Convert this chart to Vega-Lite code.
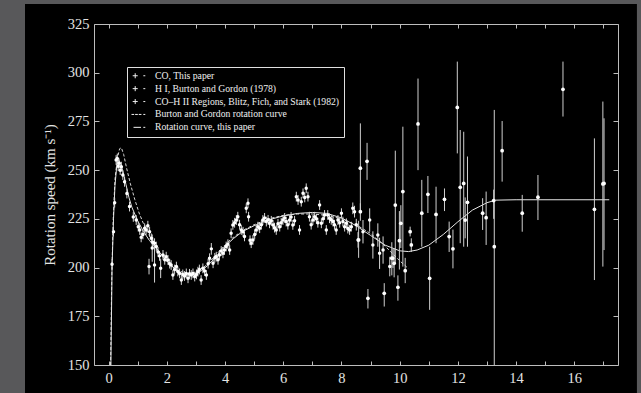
{
  "$schema": "https://vega.github.io/schema/vega-lite/v6.json",
  "autosize": "none",
  "width": 524,
  "height": 341,
  "padding": {"left": 94, "top": 24, "right": 23, "bottom": 28},
  "background": "#58585a",
  "config": {
    "view": {"stroke": null},
    "axis": {
      "labelFont": "Liberation Serif", "labelFontSize": 14.5, "labelColor": "#e4e4e4",
      "titleFont": "Liberation Serif", "titleFontSize": 15, "titleFontWeight": "normal", "titleColor": "#e4e4e4",
      "domainColor": "#bdbdbd", "tickColor": "#bdbdbd", "grid": false, "domainWidth": 1, "tickWidth": 1
    },
    "legend": {
      "labelFont": "Liberation Serif", "labelFontSize": 9.7, "labelColor": "#f0f0f0", "labelLimit": 400
    }
  },
  "datasets": {
    "panel": [{"name": "panel"}],
    "co": [
      {"x":0.12,"v":201.7,"e":2.5},{"x":0.17,"v":218.4,"e":2.5},{"x":0.21,"v":233.3,"e":2.5},{"x":0.26,"v":255.2,"e":2.5},
      {"x":0.30,"v":256,"e":2.5},{"x":0.33,"v":252,"e":2.5},{"x":0.36,"v":253.5,"e":2.5},{"x":0.40,"v":250,"e":2.5},
      {"x":0.44,"v":251.8,"e":2.5},{"x":0.49,"v":247.5,"e":2.5},{"x":0.55,"v":244,"e":2.5},{"x":0.63,"v":238,"e":2.5},
      {"x":0.72,"v":231.3,"e":2.5},{"x":0.85,"v":226,"e":2.5},{"x":0.95,"v":224.4,"e":2.5},{"x":1.02,"v":221,"e":2.5},
      {"x":1.07,"v":219.3,"e":2.5},{"x":1.12,"v":215.5,"e":2.5},{"x":1.18,"v":217,"e":2.5},{"x":1.24,"v":220.2,"e":2.5},
      {"x":1.29,"v":219.3,"e":2.5},{"x":1.35,"v":221.5,"e":2.5},{"x":1.41,"v":218.4,"e":2.5},{"x":1.47,"v":215,"e":2.5},
      {"x":1.52,"v":213,"e":2.5},{"x":1.58,"v":212.5,"e":2.5},{"x":1.64,"v":210.8,"e":2.5},{"x":1.70,"v":208,"e":2.5},
      {"x":1.75,"v":206,"e":2.5},{"x":1.87,"v":206.5,"e":2.5},{"x":1.93,"v":204,"e":2.5},{"x":1.98,"v":205.6,"e":2.5},
      {"x":2.04,"v":203.9,"e":2.5},{"x":2.10,"v":202,"e":2.5},{"x":2.15,"v":201.3,"e":2.5},{"x":2.21,"v":196.2,"e":2.5},
      {"x":2.27,"v":199,"e":2.5},{"x":2.33,"v":200.5,"e":2.5},{"x":2.38,"v":198,"e":2.5},{"x":2.44,"v":197,"e":2.5},
      {"x":2.50,"v":193.6,"e":2.5},{"x":2.55,"v":196.5,"e":2.5},{"x":2.61,"v":195.7,"e":2.5},{"x":2.67,"v":197,"e":2.5},
      {"x":2.73,"v":194.5,"e":2.5},{"x":2.78,"v":196.8,"e":2.5},{"x":2.84,"v":196.2,"e":2.5},{"x":2.90,"v":197,"e":2.5},
      {"x":2.96,"v":195.4,"e":2.5},{"x":3.02,"v":196.5,"e":2.5},{"x":3.07,"v":197.9,"e":2.5},{"x":3.12,"v":199,"e":2.5},
      {"x":3.18,"v":193.6,"e":2.5},{"x":3.24,"v":199.6,"e":2.5},{"x":3.30,"v":198.2,"e":2.5},{"x":3.36,"v":196.2,"e":2.5},
      {"x":3.42,"v":202,"e":2.5},{"x":3.47,"v":204.8,"e":2.5},{"x":3.59,"v":202.2,"e":2.5},{"x":3.65,"v":205,"e":2.5},
      {"x":3.70,"v":205.6,"e":2.5},{"x":3.76,"v":204,"e":2.5},{"x":3.81,"v":206.5,"e":2.5},{"x":3.87,"v":208.5,"e":2.5},
      {"x":3.93,"v":207.3,"e":2.5},{"x":3.98,"v":209,"e":2.5},{"x":4.04,"v":210.8,"e":2.5},{"x":4.10,"v":212,"e":2.5},
      {"x":4.16,"v":209.0,"e":2.5},{"x":4.21,"v":217.6,"e":2.5},{"x":4.27,"v":221.9,"e":2.5},{"x":4.33,"v":223,"e":2.5},
      {"x":4.39,"v":224.4,"e":2.5},{"x":4.44,"v":226.1,"e":2.5},{"x":4.50,"v":222,"e":2.5},{"x":4.56,"v":219.3,"e":2.5},
      {"x":4.62,"v":218.4,"e":2.5},{"x":4.67,"v":216,"e":2.5},{"x":4.73,"v":230.4,"e":2.5},{"x":4.79,"v":233,"e":2.5},
      {"x":4.81,"v":226.1,"e":2.5},{"x":4.86,"v":214,"e":2.5},{"x":4.90,"v":212.5,"e":2.5},{"x":4.96,"v":214.2,"e":2.5},
      {"x":5.02,"v":217,"e":2.5},{"x":5.07,"v":219.3,"e":2.5},{"x":5.13,"v":221,"e":2.5},{"x":5.19,"v":220.2,"e":2.5},
      {"x":5.25,"v":222,"e":2.5},{"x":5.30,"v":224.4,"e":2.5},{"x":5.36,"v":225.5,"e":2.5},{"x":5.42,"v":223.6,"e":2.5},
      {"x":5.48,"v":224.5,"e":2.5},{"x":5.53,"v":222.7,"e":2.5},{"x":5.59,"v":224,"e":2.5},{"x":5.65,"v":221.9,"e":2.5},
      {"x":5.70,"v":220.5,"e":2.5},{"x":5.76,"v":219.3,"e":2.5},{"x":5.82,"v":222.5,"e":2.5},{"x":5.88,"v":221,"e":2.5},
      {"x":5.93,"v":223,"e":2.5},{"x":5.99,"v":224.4,"e":2.5},{"x":6.05,"v":225.5,"e":2.5},{"x":6.10,"v":223.6,"e":2.5},
      {"x":6.16,"v":222,"e":2.5},{"x":6.22,"v":224.4,"e":2.5},{"x":6.27,"v":226,"e":2.5},{"x":6.33,"v":221.9,"e":2.5},
      {"x":6.39,"v":224,"e":2.5},{"x":6.45,"v":236.4,"e":2.5},{"x":6.51,"v":234.7,"e":2.5},{"x":6.56,"v":219.3,"e":2.5},
      {"x":6.62,"v":233.8,"e":2.5},{"x":6.68,"v":238.1,"e":2.5},{"x":6.74,"v":236,"e":2.5},{"x":6.79,"v":240.7,"e":2.5},
      {"x":6.85,"v":236.4,"e":2.5},{"x":6.90,"v":226.1,"e":2.5},{"x":6.96,"v":222,"e":2.5},{"x":7.02,"v":224.4,"e":2.5},
      {"x":7.08,"v":226.1,"e":2.5},{"x":7.14,"v":225,"e":2.5},{"x":7.19,"v":223,"e":2.5},{"x":7.25,"v":232.1,"e":2.5},
      {"x":7.31,"v":222.7,"e":2.5},{"x":7.37,"v":225,"e":2.5},{"x":7.42,"v":227,"e":2.5},{"x":7.48,"v":219.3,"e":2.5},
      {"x":7.53,"v":227,"e":2.5},{"x":7.59,"v":225.3,"e":2.5},{"x":7.65,"v":224.5,"e":2.5},{"x":7.71,"v":223.6,"e":2.5},
      {"x":7.76,"v":222,"e":2.5},{"x":7.82,"v":219.3,"e":2.5},{"x":7.88,"v":224.4,"e":2.5},{"x":7.94,"v":223,"e":2.5},
      {"x":8.00,"v":227.9,"e":2.5},{"x":8.05,"v":223.6,"e":2.5},{"x":8.11,"v":221,"e":2.5},{"x":8.17,"v":222.7,"e":2.5},
      {"x":8.22,"v":220,"e":2.5},{"x":8.28,"v":219.3,"e":2.5},{"x":8.34,"v":221,"e":2.5},{"x":8.39,"v":230.4,"e":3},
      {"x":8.45,"v":228.7,"e":3},{"x":8.51,"v":222,"e":3},{"x":8.57,"v":214.2,"e":4}
    ],
    "hi": [
      {"x":1.39,"v":200.5,"e":4},{"x":1.50,"v":210,"e":7},{"x":1.58,"v":201.3,"e":9},{"x":1.79,"v":199.6,"e":5},
      {"x":3.53,"v":209.6,"e":3},{"x":8.74,"v":218.4,"e":6},{"x":8.97,"v":224.4,"e":6},{"x":9.08,"v":211.6,"e":7},
      {"x":9.25,"v":216.7,"e":6},{"x":9.31,"v":207.3,"e":8},{"x":9.43,"v":209,"e":7},{"x":9.66,"v":200.5,"e":5},
      {"x":9.77,"v":204.8,"e":5}
    ],
    "hii": [
      {"x":8.59,"v":214.2,"lo":205,"hi":224},{"x":8.65,"v":251,"lo":228,"hi":274},{"x":8.65,"v":228.7,"lo":224,"hi":233},
      {"x":8.88,"v":254.5,"lo":245,"hi":264},{"x":8.91,"v":184.2,"lo":179,"hi":189},{"x":9.47,"v":186.8,"lo":180,"hi":192},
      {"x":9.85,"v":232.1,"lo":202,"hi":260},{"x":9.73,"v":204.8,"lo":196,"hi":213},{"x":9.81,"v":202.2,"lo":195,"hi":210},
      {"x":9.94,"v":189.9,"lo":183,"hi":196},{"x":9.99,"v":213.8,"lo":199,"hi":229},{"x":10.04,"v":222.7,"lo":210,"hi":232},
      {"x":10.11,"v":239,"lo":200.5,"hi":272.3},{"x":10.19,"v":198.4,"lo":192,"hi":205},{"x":10.36,"v":218.4,"lo":216,"hi":221},
      {"x":10.40,"v":211.6,"lo":208,"hi":215},{"x":10.63,"v":273.7,"lo":250,"hi":297},{"x":10.76,"v":227.9,"lo":210.7,"hi":245},
      {"x":10.97,"v":237.6,"lo":228,"hi":247},{"x":11.03,"v":194.5,"lo":178.3,"hi":210.7},{"x":11.25,"v":227.3,"lo":212.5,"hi":241.5},
      {"x":11.54,"v":235,"lo":229,"hi":240.6},{"x":11.70,"v":215.9,"lo":208,"hi":223.6},{"x":11.83,"v":209.6,"lo":199.6,"hi":219.5},
      {"x":11.98,"v":282.2,"lo":258.6,"hi":305.7},{"x":12.08,"v":241.2,"lo":212.5,"hi":270.6},{"x":12.20,"v":243.2,"lo":210.7,"hi":269.7},
      {"x":12.25,"v":224.4,"lo":215,"hi":236},{"x":12.33,"v":233.5,"lo":210.7,"hi":257},{"x":12.85,"v":227.9,"lo":219.3,"hi":235.6},
      {"x":12.97,"v":225.6,"lo":211.6,"hi":239},{"x":13.23,"v":234.4,"lo":225,"hi":240},{"x":13.25,"v":210.7,"lo":150,"hi":280.9},
      {"x":13.52,"v":260,"lo":244.1,"hi":275.2},{"x":14.21,"v":227.9,"lo":218.4,"hi":237.3},{"x":14.75,"v":236.1,"lo":224.4,"hi":247.5},
      {"x":15.61,"v":291.5,"lo":277.5,"hi":305.7},{"x":16.69,"v":229.9,"lo":193.6,"hi":266.3},{"x":16.98,"v":242.9,"lo":200.5,"hi":285.2},
      {"x":17.02,"v":243.2,"lo":209,"hi":276.6}
    ],
    "solid": [
      {"x":0.08,"v":150},{"x":0.12,"v":200},{"x":0.17,"v":225},{"x":0.22,"v":242},{"x":0.28,"v":252},{"x":0.34,"v":255.3},
      {"x":0.40,"v":254},{"x":0.5,"v":249},{"x":0.6,"v":242.5},{"x":0.7,"v":236},{"x":0.8,"v":231},{"x":1.0,"v":224},
      {"x":1.2,"v":218.5},{"x":1.4,"v":214},{"x":1.6,"v":210.5},{"x":1.8,"v":207},{"x":2.0,"v":203.5},{"x":2.2,"v":200.3},
      {"x":2.4,"v":197.8},{"x":2.6,"v":196.4},{"x":2.8,"v":196},{"x":3.0,"v":196.8},{"x":3.2,"v":198.5},{"x":3.4,"v":201},
      {"x":3.6,"v":204},{"x":3.8,"v":207.5},{"x":4.0,"v":211},{"x":4.3,"v":215},{"x":4.6,"v":218.5},{"x":5.0,"v":221.5},
      {"x":5.5,"v":224.5},{"x":6.0,"v":226.5},{"x":6.5,"v":227.8},{"x":7.0,"v":228.3},{"x":7.5,"v":227.8},{"x":8.0,"v":225.5},
      {"x":8.5,"v":221.5},{"x":9.0,"v":216.5},{"x":9.5,"v":211.5},{"x":10.0,"v":208.6},{"x":10.3,"v":208.2},{"x":10.6,"v":209},
      {"x":11.0,"v":211.5},{"x":11.5,"v":217},{"x":12.0,"v":223.5},{"x":12.5,"v":229.5},{"x":13.0,"v":233.3},{"x":13.3,"v":234.6},
      {"x":14.0,"v":234.8},{"x":17.2,"v":234.8}
    ],
    "dashed": [
      {"x":0.07,"v":150},{"x":0.11,"v":195},{"x":0.16,"v":225},{"x":0.22,"v":245},{"x":0.3,"v":256},{"x":0.38,"v":261},
      {"x":0.44,"v":261.5},{"x":0.52,"v":258},{"x":0.62,"v":251},{"x":0.75,"v":243},{"x":0.9,"v":235},{"x":1.05,"v":228},
      {"x":1.2,"v":222.5},{"x":1.5,"v":213.5},{"x":1.8,"v":206.5},{"x":2.1,"v":201.5},{"x":2.4,"v":198.3},{"x":2.7,"v":197},
      {"x":3.0,"v":197.6},{"x":3.3,"v":200.5},{"x":3.6,"v":205},{"x":3.9,"v":210},{"x":4.2,"v":214.5},{"x":4.6,"v":219},
      {"x":5.0,"v":222},{"x":5.5,"v":225},{"x":6.0,"v":226.8},{"x":6.5,"v":227.5},{"x":7.0,"v":227.5},{"x":7.5,"v":226.8},
      {"x":8.0,"v":225},{"x":8.5,"v":222},{"x":9.0,"v":217.5},{"x":9.5,"v":211},{"x":10.0,"v":203.5},{"x":10.3,"v":199.5}
    ],
    "leg": [
      {"s":"CO, This paper"},
      {"s":"H I, Burton and Gordon (1978)"},
      {"s":"CO–H II Regions, Blitz, Fich, and Stark (1982)"},
      {"s":"Burton and Gordon rotation curve"},
      {"s":"Rotation curve, this paper"}
    ]
  },
  "layer": [
    {
      "data": {"name": "panel"},
      "mark": {"type": "rect", "color": "#000000", "clip": false},
      "encoding": {
        "x": {"datum": -2.87, "type": "quantitative", "scale": {"domain": [-0.5, 17.5], "nice": false, "zero": false}, "axis": null},
        "x2": {"datum": 18.15},
        "y": {"datum": 335.3, "type": "quantitative", "scale": {"domain": [150, 325], "nice": false, "zero": false}, "axis": null},
        "y2": {"datum": 130}
      }
    },
    {
      "data": {"name": "dashed"},
      "mark": {"type": "line", "color": "#d8d8d8", "strokeWidth": 1, "strokeDash": [3, 2]},
      "encoding": {
        "x": {"field": "x", "type": "quantitative", "axis": {"orient": "top", "labels": false, "values": [0,1,2,3,4,5,6,7,8,9,10,11,12,13,14,15,16,17], "tickSize": -4, "title": null, "zindex": 3}},
        "y": {"field": "v", "type": "quantitative", "axis": {"orient": "right", "labels": false, "values": [150,175,200,225,250,275,300,325], "tickSize": -5, "title": null, "zindex": 3}}
      }
    },
    {
      "data": {"name": "solid"},
      "mark": {"type": "line", "color": "#e6e6e6", "strokeWidth": 1},
      "encoding": {
        "x": {"field": "x", "type": "quantitative", "axis": null},
        "y": {"field": "v", "type": "quantitative", "axis": null}
      }
    },
    {
      "data": {"name": "hii"},
      "mark": {"type": "rule", "color": "#cfcfcf", "strokeWidth": 1},
      "encoding": {
        "x": {"field": "x", "type": "quantitative", "axis": null},
        "y": {"field": "lo", "type": "quantitative", "axis": null},
        "y2": {"field": "hi"}
      }
    },
    {
      "data": {"name": "co"},
      "mark": {"type": "errorbar", "ticks": false, "color": "#d6d6d6"},
      "encoding": {
        "x": {"field": "x", "type": "quantitative", "axis": {"orient": "bottom", "values": [0,1,2,3,4,5,6,7,8,9,10,11,12,13,14,15,16,17], "labelExpr": "datum.value % 2 === 0 ? datum.label : ''", "tickSize": -4, "labelPadding": 10, "title": null, "zindex": 3}},
        "y": {"field": "v", "type": "quantitative", "axis": {"orient": "left", "values": [150,175,200,225,250,275,300,325], "tickSize": -5, "labelPadding": 10, "title": "Rotation speed (km s⁻¹)", "titlePadding": 10, "zindex": 3}},
        "yError": {"field": "e"}
      }
    },
    {
      "data": {"name": "hi"},
      "mark": {"type": "errorbar", "ticks": false, "color": "#d6d6d6"},
      "encoding": {
        "x": {"field": "x", "type": "quantitative", "axis": null},
        "y": {"field": "v", "type": "quantitative", "axis": null},
        "yError": {"field": "e"}
      }
    },
    {
      "data": {"name": "co"},
      "mark": {"type": "point", "filled": true, "color": "#ffffff", "size": 12, "opacity": 1},
      "encoding": {
        "x": {"field": "x", "type": "quantitative", "axis": null},
        "y": {"field": "v", "type": "quantitative", "axis": null}
      }
    },
    {
      "data": {"name": "hi"},
      "mark": {"type": "point", "filled": true, "color": "#ffffff", "size": 12, "opacity": 1},
      "encoding": {
        "x": {"field": "x", "type": "quantitative", "axis": null},
        "y": {"field": "v", "type": "quantitative", "axis": null}
      }
    },
    {
      "data": {"name": "hii"},
      "mark": {"type": "point", "filled": true, "color": "#ffffff", "size": 14, "opacity": 1},
      "encoding": {
        "x": {"field": "x", "type": "quantitative", "axis": null},
        "y": {"field": "v", "type": "quantitative", "axis": null}
      }
    },
    {
      "data": {"name": "leg"},
      "mark": {"type": "point", "filled": false, "color": "#f0f0f0", "opacity": 0, "strokeWidth": 1},
      "encoding": {
        "shape": {
          "field": "s", "type": "nominal",
          "scale": {
            "domain": ["CO, This paper", "H I, Burton and Gordon (1978)", "CO–H II Regions, Blitz, Fich, and Stark (1982)", "Burton and Gordon rotation curve", "Rotation curve, this paper"],
            "range": [
              "M-0.83,0H-0.11M-0.47,-0.36V0.36M0.69,0H0.97",
              "M-0.83,0H-0.11M-0.47,-0.36V0.36M0.69,0H0.97",
              "M-0.83,0H-0.11M-0.47,-0.36V0.36M0.69,0H0.97",
              "M-1,0H-0.62M-0.48,0H-0.1M0.04,0H0.42M0.69,0H0.97",
              "M-0.71,0H0.36M0.69,0H0.97"
            ]
          },
          "legend": {
            "title": null, "orient": "none", "legendX": 33, "legendY": 43,
            "strokeColor": "#e0e0e0", "padding": 4, "symbolSize": 196, "clipHeight": 9.5, "rowPadding": 1.9,
            "symbolStrokeColor": "#f0f0f0", "symbolFillColor": "transparent", "symbolStrokeWidth": 1, "symbolOffset": 0, "labelOffset": 9
          }
        }
      }
    }
  ]
}
